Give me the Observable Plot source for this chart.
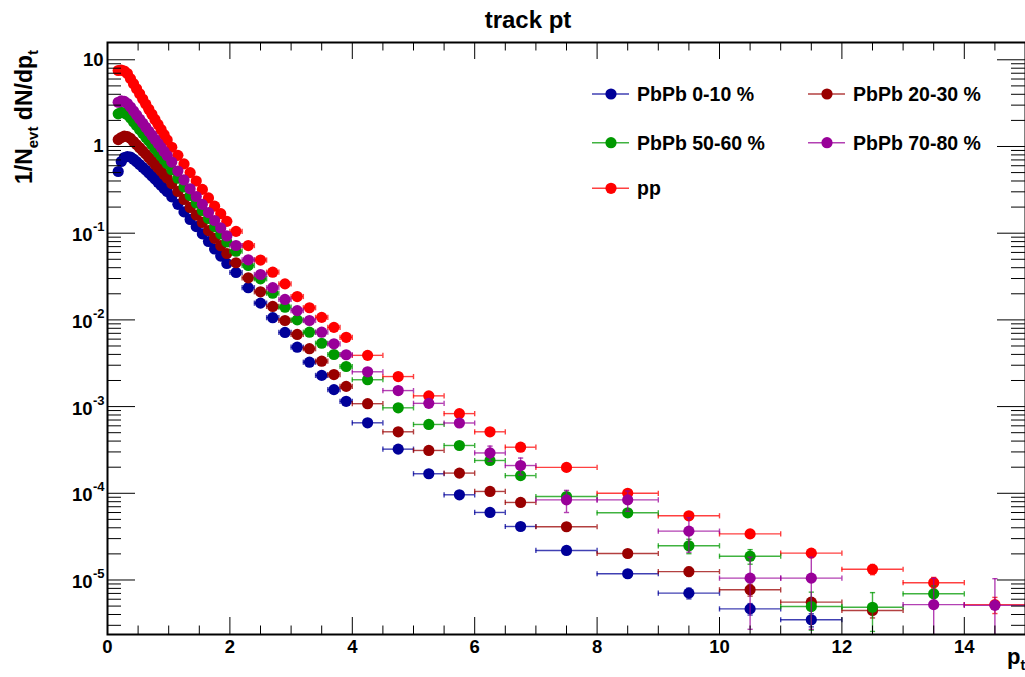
<!DOCTYPE html>
<html><head><meta charset="utf-8">
<script src="https://cdn.jsdelivr.net/npm/d3@7"></script>
<script src="https://cdn.jsdelivr.net/npm/@observablehq/plot@0.6"></script>
<style>
body{margin:0;background:#fff;}
#chart svg{font-family:"Liberation Sans",Arial,Helvetica,sans-serif;}
</style>
</head><body><div id="chart"></div>
<script>
// ---- data ----
const binEdges = [0.15,0.2,0.25,0.3,0.35,0.4,0.45,0.5,0.55,0.6,0.65,0.7,0.75,0.8,0.85,0.9,0.95,1.0,
  1.1,1.2,1.3,1.4,1.5,1.6,1.7,1.8,1.9,2.0,
  2.2,2.4,2.6,2.8,3.0,3.2,3.4,3.6,3.8,4.0,
  4.5,5.0,5.5,6.0,6.5,7.0,
  8,9,10,11,12,13,14,15];

const seriesNames  = ["PbPb 0-10 %", "PbPb 20-30 %", "PbPb 50-60 %", "PbPb 70-80 %", "pp"];
const seriesColors = ["#000099", "#990000", "#009900", "#990099", "#ff0000"];

const pbpb0010 = [0.515,0.671,0.746,0.767,0.757,0.714,0.668,0.620,0.575,0.535,0.494,0.456,0.420,0.387,0.356,0.328,0.302,
  0.263,0.215,0.176,0.144,0.119,0.0982,0.0802,0.0657,0.0545,0.0448,
  0.0352,0.0235,0.0156,0.0106,0.00716,0.00484,0.00325,0.00229,0.00157,0.00115,
  0.000650,0.000323,0.000168,9.61e-5,6.01e-5,4.14e-5,
  2.19e-5,1.18e-5,7.05e-6,4.64e-6,3.48e-6,null,null,null];
const pbpb2030 = [1.20,1.27,1.32,1.30,1.24,1.14,1.05,0.969,0.889,0.817,0.746,0.682,0.623,0.569,0.520,0.475,0.434,
  0.374,0.303,0.245,0.198,0.162,0.133,0.107,0.0873,0.0718,0.0583,
  0.0456,0.0306,0.0211,0.0143,0.00984,0.00679,0.00465,0.00334,0.00234,0.00171,
  0.00108,0.000512,0.000312,0.000171,0.000105,7.84e-5,
  4.11e-5,2.02e-5,1.25e-5,7.71e-6,5.55e-6,4.45e-6,null,null];
const pbpb5060 = [2.38,2.47,2.43,2.32,2.13,1.92,1.74,1.57,1.42,1.28,1.16,1.05,0.949,0.858,0.775,0.703,0.636,
  0.540,0.430,0.341,0.272,0.223,0.183,0.148,0.119,0.0979,0.0792,
  0.0620,0.0424,0.0298,0.0203,0.0140,0.0100,0.00721,0.00538,0.00399,0.00290,
  0.00204,0.000968,0.000622,0.000356,0.000239,0.000160,
  9.18e-5,5.96e-5,2.48e-5,1.88e-5,4.94e-6,4.85e-6,6.93e-6,null];
const pbpb7080 = [3.24,3.35,3.31,3.13,2.85,2.57,2.31,2.07,1.86,1.67,1.50,1.35,1.21,1.09,0.977,0.875,0.787,
  0.662,0.521,0.411,0.325,0.265,0.215,0.173,0.140,0.115,0.0929,
  0.0721,0.0493,0.0334,0.0235,0.0172,0.0128,0.00984,0.00721,0.00530,0.00396,
  0.00252,0.00153,0.00109,0.000647,0.000292,0.000209,
  8.4e-5,8.4e-5,3.66e-5,1.05e-5,1.05e-5,null,5.2e-6,5.1e-6];
const ppRef = [7.53,7.62,7.43,6.95,6.07,5.30,4.63,4.05,3.53,3.08,2.69,2.35,2.05,1.80,1.57,1.37,1.19,
  0.98,0.79,0.63,0.50,0.40,0.32,0.255,0.205,0.168,0.137,
  0.105,0.072,0.049,0.0355,0.026,0.0186,0.0138,0.0107,0.0082,0.0063,
  0.0039,0.00222,0.00133,0.00083,0.000512,0.00034,
  1.99e-4,1.0e-4,5.5e-5,3.4e-5,2.04e-5,1.33e-5,9.3e-6,5.2e-6];

// statistical errors of the last ten bins (pt 6.25 ... 14.5)
const errFirstBin = 41;
const err0010 = [4e-6,3e-6,2e-6,1.2e-6,1e-6,7e-7,6e-7,null,null,null];
const err2030 = [6e-6,5e-6,3e-6,2e-6,1.5e-6,1.2e-6,7e-7,8e-7,null,null];
const err5060 = [1.5e-5,1.2e-5,8e-6,5e-6,4.7e-6,3.6e-6,2.3e-6,2.3e-6,1.6e-6,null];
const err7080 = [5.8e-5,4.6e-5,2.4e-5,2.2e-5,1.57e-5,7.8e-6,7.8e-6,null,5.25e-6,5.25e-6];
const errPP   = [1.5e-5,1.2e-5,6e-6,5e-6,4e-6,3e-6,2.2e-6,1.8e-6,1.4e-6,1.1e-6];

const xTicksMajor = [0,2,4,6,8,10,12,14];
const xTicksMinor = [0.5,1,1.5,2.5,3,3.5,4.5,5,5.5,6.5,7,7.5,8.5,9,9.5,10.5,11,11.5,12.5,13,13.5,14.5];
const yTicksMajor = [1e-5,1e-4,1e-3,1e-2,1e-1,1,10];
const yTickBase   = ["10","10","10","10","10","1","10"];
const yTickExp    = ["-5","-4","-3","-2","-1","",""];

const chartTitle = "track pt";

// ---- build ----
const seriesValues = [pbpb0010, pbpb2030, pbpb5060, pbpb7080, ppRef];
const seriesErrors = [err0010, err2030, err5060, err7080, errPP];
const yMin = 2.351e-6, yMax = 15.83;

const yTicksMinor = [];
for (let e = -6; e <= 1; e++) for (let m = 2; m <= 9; m++) {
  const v = m * Math.pow(10, e);
  if (v > yMin && v < yMax) yTicksMinor.push(v);
}

function rowsFor(k) {
  const vals = seriesValues[k], errs = seriesErrors[k];
  const rows = [];
  vals.forEach((v, i) => {
    if (v == null) return;
    const e = (i >= errFirstBin) ? errs[i - errFirstBin] : null;
    const lo = e ? v - e : v, hi = e ? v + e : v;
    rows.push({x: (binEdges[i] + binEdges[i+1]) / 2, x1: binEdges[i], x2: binEdges[i+1], y: v,
      yLo: Math.max(lo, yMin), yHi: hi, loClamped: lo <= yMin, hasErr: !!e});
  });
  return rows;
}

const vbar = {draw(ctx, size) { const h = Math.sqrt(size / Math.PI); ctx.moveTo(0, -h); ctx.lineTo(0, h); }};
const hbar = {draw(ctx, size) { const h = Math.sqrt(size / Math.PI); ctx.moveTo(-h, 0); ctx.lineTo(h, 0); }};

const W = 1025, H = 677, mL = 107, mR = 0, mT = 42, mB = 43;
const fw = W - mL - mR, fh = H - mT - mB;

const drawOrder = [4, 0, 1, 2, 3];
const dataMarks = [];
for (const k of drawOrder) {
  const rows = rowsFor(k), c = seriesColors[k];
  const er = rows.filter(d => d.hasErr);
  dataMarks.push(
    Plot.ruleY(rows, {y: "y", x1: "x1", x2: "x2", stroke: c, strokeWidth: 1.4, strokeOpacity: 0.75}),
    Plot.dot(rows, {x: "x1", y: "y", symbol: vbar, r: 2.6, stroke: c, strokeWidth: 1.4, strokeOpacity: 0.75}),
    Plot.dot(rows, {x: "x2", y: "y", symbol: vbar, r: 2.6, stroke: c, strokeWidth: 1.4, strokeOpacity: 0.75}),
    Plot.ruleX(er, {x: "x", y1: "yLo", y2: "yHi", stroke: c, strokeWidth: 1.4, strokeOpacity: 0.75}),
    Plot.dot(er, {x: "x", y: "yHi", symbol: hbar, r: 2.6, stroke: c, strokeWidth: 1.4, strokeOpacity: 0.75}),
    Plot.dot(er.filter(d => !d.loClamped), {x: "x", y: "yLo", symbol: hbar, r: 2.6, stroke: c, strokeWidth: 1.4, strokeOpacity: 0.75}),
    Plot.dot(rows, {x: "x", y: "y", r: 5.6, fill: c, stroke: "none"})
  );
}

const chart = Plot.plot({
  width: W, height: H,
  marginLeft: mL, marginRight: mR, marginTop: mT, marginBottom: mB,
  style: {fontFamily: "'Liberation Sans', Arial, Helvetica, sans-serif", background: "white", overflow: "visible"},
  x: {domain: [0, 15], axis: null},
  y: {type: "log", domain: [yMin, yMax], axis: null},
  marks: [
    ...dataMarks,
    // ticks inside the frame (ROOT style)
    Plot.tickX(xTicksMajor, {x: d => d, insetTop: fh - 17, stroke: "#000"}),
    Plot.tickX(xTicksMajor, {x: d => d, insetBottom: fh - 17, stroke: "#000"}),
    Plot.tickX(xTicksMinor, {x: d => d, insetTop: fh - 8.5, stroke: "#000"}),
    Plot.tickX(xTicksMinor, {x: d => d, insetBottom: fh - 8.5, stroke: "#000"}),
    Plot.tickY(yTicksMajor, {y: d => d, insetRight: fw - 28, stroke: "#000"}),
    Plot.tickY(yTicksMajor, {y: d => d, insetLeft: fw - 28, stroke: "#000"}),
    Plot.tickY(yTicksMinor, {y: d => d, insetRight: fw - 14, stroke: "#000"}),
    Plot.tickY(yTicksMinor, {y: d => d, insetLeft: fw - 14, stroke: "#000"}),
    Plot.frame({stroke: "#000", strokeWidth: 2}),
    // tick labels
    Plot.text(xTicksMajor, {x: d => d, frameAnchor: "bottom", dy: 5, lineAnchor: "top", text: d => String(d),
      fontSize: 18.5, fontWeight: "bold", fill: "#000"}),
    Plot.text(yTicksMajor.filter((d, i) => yTickExp[i] === ""), {y: d => d, frameAnchor: "left", dx: -4, textAnchor: "end",
      text: d => yTickBase[yTicksMajor.indexOf(d)], fontSize: 18.5, fontWeight: "bold", fill: "#000"}),
    Plot.text(yTicksMajor.filter((d, i) => yTickExp[i] !== ""), {y: d => d, frameAnchor: "left", dx: -15, dy: 2, textAnchor: "end",
      text: d => yTickBase[yTicksMajor.indexOf(d)], fontSize: 18.5, fontWeight: "bold", fill: "#000"}),
    Plot.text(yTicksMajor.filter((d, i) => yTickExp[i] !== ""), {y: d => d, frameAnchor: "left", dx: -3, dy: -6, textAnchor: "end",
      text: d => yTickExp[yTicksMajor.indexOf(d)], fontSize: 13, fontWeight: "bold", fill: "#000"})
  ]
});

const svg = d3.select(chart);
// title
svg.append("text").attr("x", 528).attr("y", 28).attr("text-anchor", "middle")
  .attr("font-size", 24).attr("font-weight", "bold").text(chartTitle);
// y-axis title
const yt = svg.append("text").attr("transform", "translate(32,50) rotate(-90)")
  .attr("text-anchor", "end").attr("font-size", 23).attr("font-weight", "bold");
yt.append("tspan").text("1/N");
yt.append("tspan").attr("font-size", 15).attr("dy", 6).text("evt");
yt.append("tspan").attr("dy", -6).text(" dN/dp");
yt.append("tspan").attr("font-size", 15).attr("dy", 6).text("t");
// x-axis title
const xt = svg.append("text").attr("x", 1007).attr("y", 664).attr("text-anchor", "start")
  .attr("font-size", 22).attr("font-weight", "bold");
xt.append("tspan").text("p");
xt.append("tspan").attr("font-size", 14).attr("dy", 6).text("t");

// legend
const legendPos = [[592, 94], [808, 94], [592, 142.7], [808, 142.7], [592, 188.3]];
const lg = svg.append("g");
seriesNames.forEach((name, k) => {
  const [lx, ly] = legendPos[k];
  const g = lg.append("g");
  g.append("line").attr("x1", lx).attr("x2", lx + 37).attr("y1", ly).attr("y2", ly)
    .attr("stroke", seriesColors[k]).attr("stroke-width", 1.4).attr("stroke-opacity", 0.75);
  g.append("circle").attr("cx", lx + 19).attr("cy", ly).attr("r", 5.6).attr("fill", seriesColors[k]);
  g.append("text").attr("x", lx + 45).attr("y", ly + 7).attr("text-anchor", "start")
    .attr("font-size", 19.5).attr("font-weight", "bold").text(name);
});

document.getElementById("chart").appendChild(chart);
</script>
</body></html>
